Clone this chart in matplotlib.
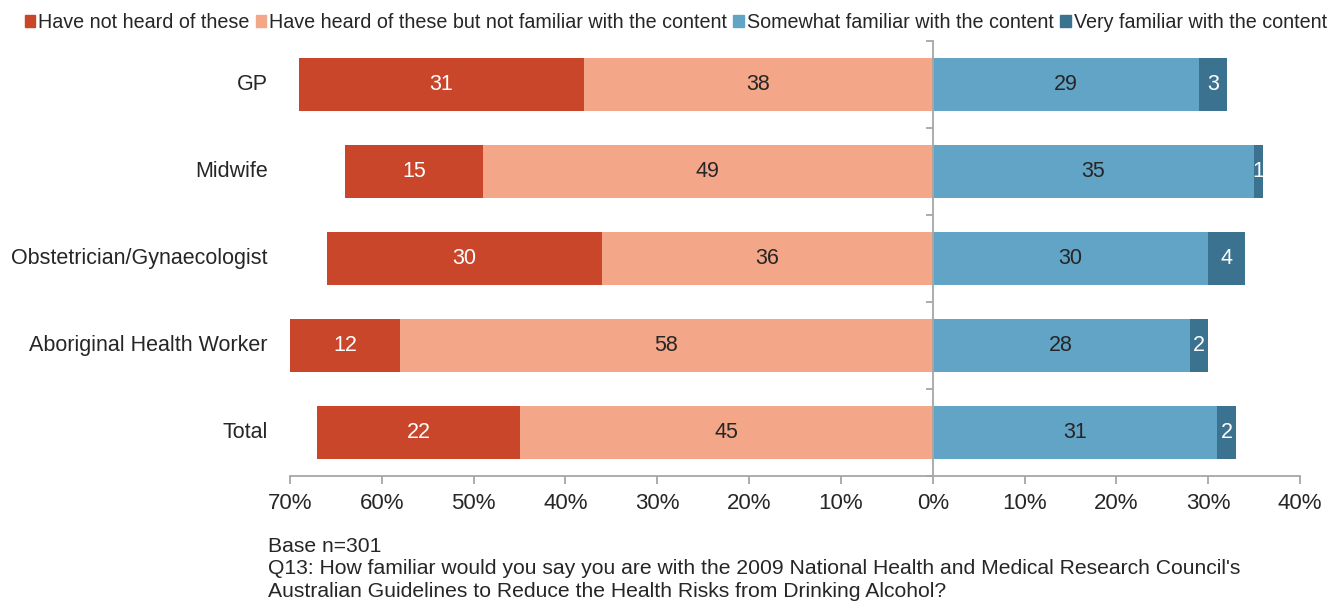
import matplotlib.pyplot as plt
from matplotlib.patches import Patch
from matplotlib.ticker import FuncFormatter

plt.rcParams["font.family"] = ["Liberation Sans", "DejaVu Sans"]

# survey results, % of respondents per group
groups = ["GP", "Midwife", "Obstetrician/Gynaecologist", "Aboriginal Health Worker", "Total"]
not_heard = [31, 15, 30, 12, 22]
heard_not_familiar = [38, 49, 36, 58, 45]
somewhat_familiar = [29, 35, 30, 28, 31]
very_familiar = [3, 1, 4, 2, 2]

series_names = [
    "Have not heard of these",
    "Have heard of these but not familiar with the content",
    "Somewhat familiar with the content",
    "Very familiar with the content",
]
colors = ["#C9462A", "#F4A688", "#62A4C6", "#3A7290"]
label_colors = ["white", "#262626", "#262626", "white"]
text_color = "#262626"

fig = plt.figure(figsize=(13.38, 6.03), dpi=100)
ax = fig.add_axes([0.2167, 0.2106, 0.7549, 0.7214])

y = list(range(len(groups)))
h = 0.6

# negative side: not heard stacked beyond heard-but-not-familiar
left_inner = [-v for v in heard_not_familiar]
ax.barh(y, left_inner, height=h, color=colors[1])
ax.barh(y, [-v for v in not_heard], left=left_inner, height=h, color=colors[0])
# positive side
ax.barh(y, somewhat_familiar, height=h, color=colors[2])
ax.barh(y, very_familiar, left=somewhat_familiar, height=h, color=colors[3])

for i in y:
    b = heard_not_familiar[i]
    a = not_heard[i]
    c = somewhat_familiar[i]
    d = very_familiar[i]
    ax.text(-b - a / 2, i, str(a), ha="center", va="center", fontsize=15.5, color=label_colors[0])
    ax.text(-b / 2, i, str(b), ha="center", va="center", fontsize=15.5, color=label_colors[1])
    ax.text(c / 2, i, str(c), ha="center", va="center", fontsize=15.5, color=label_colors[2])
    ax.text(c + d / 2, i, str(d), ha="center", va="center", fontsize=15.5, color=label_colors[3])

ax.set_xlim(-70, 40)
ax.set_ylim(len(groups) - 0.5, -0.5)
ax.set_xticks(range(-70, 41, 10))
ax.xaxis.set_major_formatter(FuncFormatter(lambda v, p: f"{abs(int(v))}%"))

# centre axis at 0 with separator ticks between groups
for s in ["top", "right"]:
    ax.spines[s].set_visible(False)
ax.spines["left"].set_position(("data", 0))
ax.spines["left"].set_color("#A6A6A6")
ax.spines["left"].set_linewidth(1.3)
ax.spines["bottom"].set_color("#A6A6A6")
ax.spines["bottom"].set_linewidth(1.3)
ax.set_yticks([i - 0.5 for i in range(len(groups) + 1)])
ax.set_yticklabels([])
ax.tick_params(axis="y", length=5, width=1.3, color="#A6A6A6", direction="out")
ax.tick_params(axis="x", length=6, width=1.3, color="#A6A6A6", labelsize=16,
               labelcolor=text_color, pad=6)

for i, g in enumerate(groups):
    ax.text(-0.022, i, g, transform=ax.get_yaxis_transform(), ha="right", va="center",
            fontsize=15.5, color=text_color)

handles = [Patch(color=c) for c in colors]
fig.legend(handles, series_names, loc="upper center", bbox_to_anchor=(0.505, 0.995),
           ncol=4, frameon=False, fontsize=14.2, handlelength=0.55, handleheight=0.55,
           handletextpad=0.15, columnspacing=0.3, labelcolor=text_color,
           borderaxespad=0.1)

notes = ("Base n=301\n"
         "Q13: How familiar would you say you are with the 2009 National Health and Medical Research Council's\n"
         "Australian Guidelines to Reduce the Health Risks from Drinking Alcohol?")
fig.text(0.2, 0.11, notes, ha="left", va="top", fontsize=15.2, color=text_color,
         linespacing=1.25)

fig.savefig("out.png", dpi=100)
